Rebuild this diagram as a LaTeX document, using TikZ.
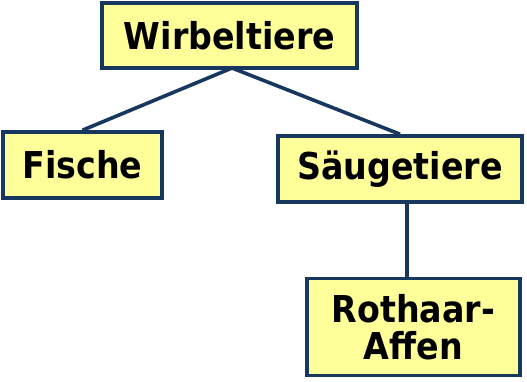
\documentclass[tikz,border=0pt]{standalone}
\usepackage{fontspec}
\setmainfont{DejaVu Sans Condensed}
\usetikzlibrary{shadows}
\definecolor{boxfill}{HTML}{FFFF99}
\definecolor{navy}{HTML}{17375E}
\begin{document}
\begin{tikzpicture}[x=1pt,y=-1pt,
  taxon/.style={draw=navy,line width=3.6pt,fill=boxfill,rectangle,
    inner sep=0pt,align=center,
    font=\fontsize{37}{37}\selectfont\bfseries,
    drop shadow={shadow xshift=1.5pt,shadow yshift=-1.5pt,opacity=.35}},
  link/.style={draw=navy,line width=3.6pt}]
\useasboundingbox (0,0) rectangle (527,381);
\node[taxon,minimum width=255pt,minimum height=65pt] (wirb) at (229.5,35.5) {Wirbeltiere};
\node[taxon,minimum width=159pt,minimum height=66pt] (fisch) at (82.5,165) {Fische};
\node[taxon,minimum width=244pt,minimum height=66pt] (saeug) at (400,169) {Säugetiere};
\node[taxon,minimum width=213pt,minimum height=97pt] (affen) at (413.5,327) {Rothaar-\\Affen};
\coordinate (fork) at (232,68);
\coordinate (drop) at (407,202);
\draw[link] (fork) -- (fisch.north);
\draw[link] (fork) -- (saeug.north);
\draw[link] (drop) -- (drop |- affen.north);
\end{tikzpicture}
\end{document}
